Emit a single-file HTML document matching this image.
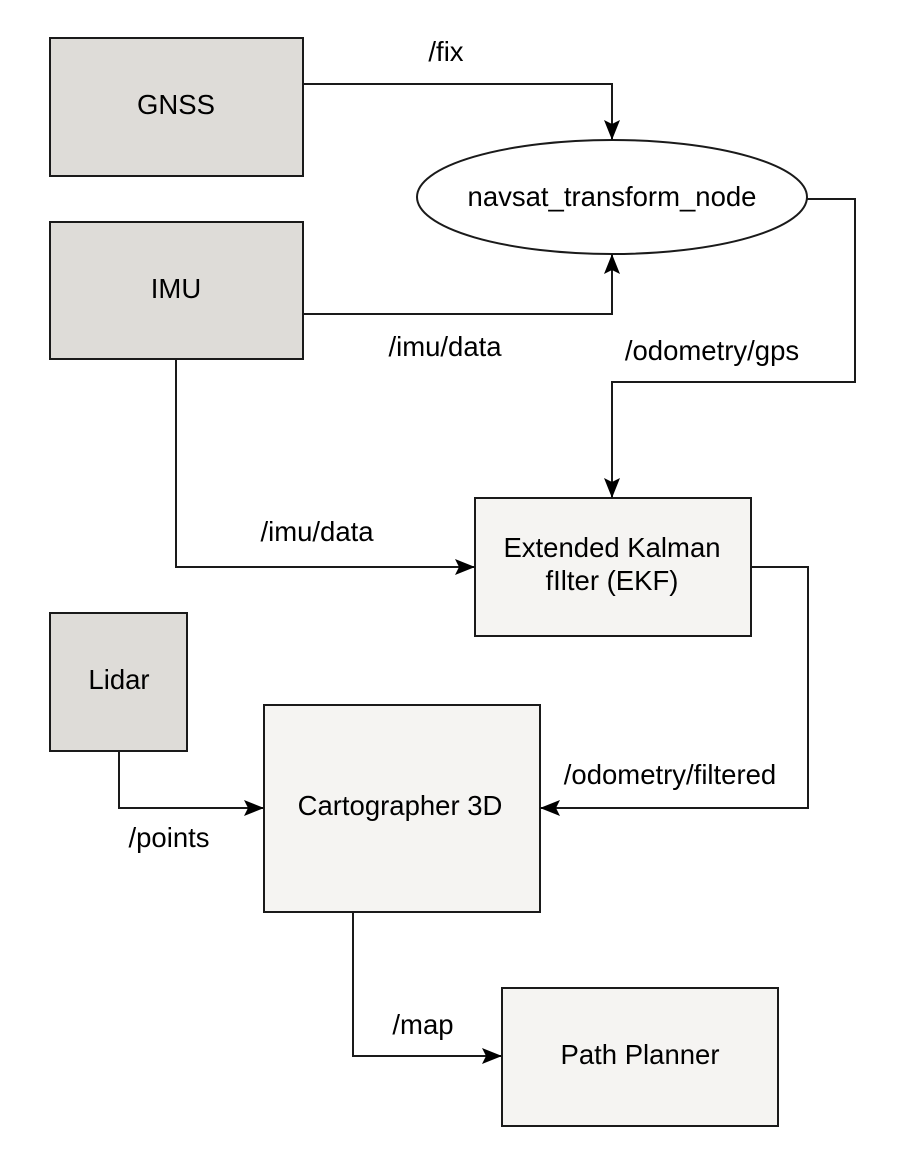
<!DOCTYPE html>
<html><head><style>body{margin:0;background:#fff}svg{display:block}</style></head>
<body>
<svg width="900" height="1170" xmlns="http://www.w3.org/2000/svg" font-family="Liberation Sans, sans-serif" font-size="27.5" fill="#000">
<defs>
<marker id="b" markerWidth="20" markerHeight="20" refX="19" refY="10" orient="auto" markerUnits="userSpaceOnUse" viewBox="0 0 20 20"><path d="M0,2 L20,10 L0,18 L4,10 z" fill="#000"/></marker></defs>
<g stroke="#1a1a1a" stroke-width="2">
<rect x="50" y="38" width="253" height="138" fill="#dedcd8"/>
<rect x="50" y="222" width="253" height="137" fill="#dedcd8"/>
<ellipse cx="612" cy="197" rx="195" ry="57" fill="#fff"/>
<rect x="475" y="498" width="276" height="138" fill="#f5f4f2"/>
<rect x="50" y="613" width="137" height="138" fill="#dedcd8"/>
<rect x="264" y="705" width="276" height="207" fill="#f5f4f2"/>
<rect x="502" y="988" width="276" height="138" fill="#f5f4f2"/>
<g fill="none" marker-end="url(#b)">
<path d="M303,84 H612 V139"/>
<path d="M303,314 H612 V255"/>
<path d="M807,199 H855 V382 H612 V497"/>
<path d="M176,359 V567 H474"/>
<path d="M751,567 H808 V808 H541"/>
<path d="M119,751 V808 H263"/>
<path d="M353,912 V1056 H501"/>
</g>
</g>
<g text-anchor="middle">
<text x="176" y="114">GNSS</text>
<text x="176" y="298">IMU</text>
<text x="612" y="206">navsat_transform_node</text>
<text x="612" y="557">Extended Kalman</text>
<text x="612" y="590">fIlter (EKF)</text>
<text x="119" y="689">Lidar</text>
<text x="400" y="815">Cartographer 3D</text>
<text x="640" y="1064">Path Planner</text>
<text x="446" y="61">/fix</text>
<text x="445" y="356">/imu/data</text>
<text x="712" y="360">/odometry/gps</text>
<text x="317" y="541">/imu/data</text>
<text x="670" y="784">/odometry/filtered</text>
<text x="169" y="847">/points</text>
<text x="423" y="1034">/map</text>
</g>
</svg>
</body></html>
